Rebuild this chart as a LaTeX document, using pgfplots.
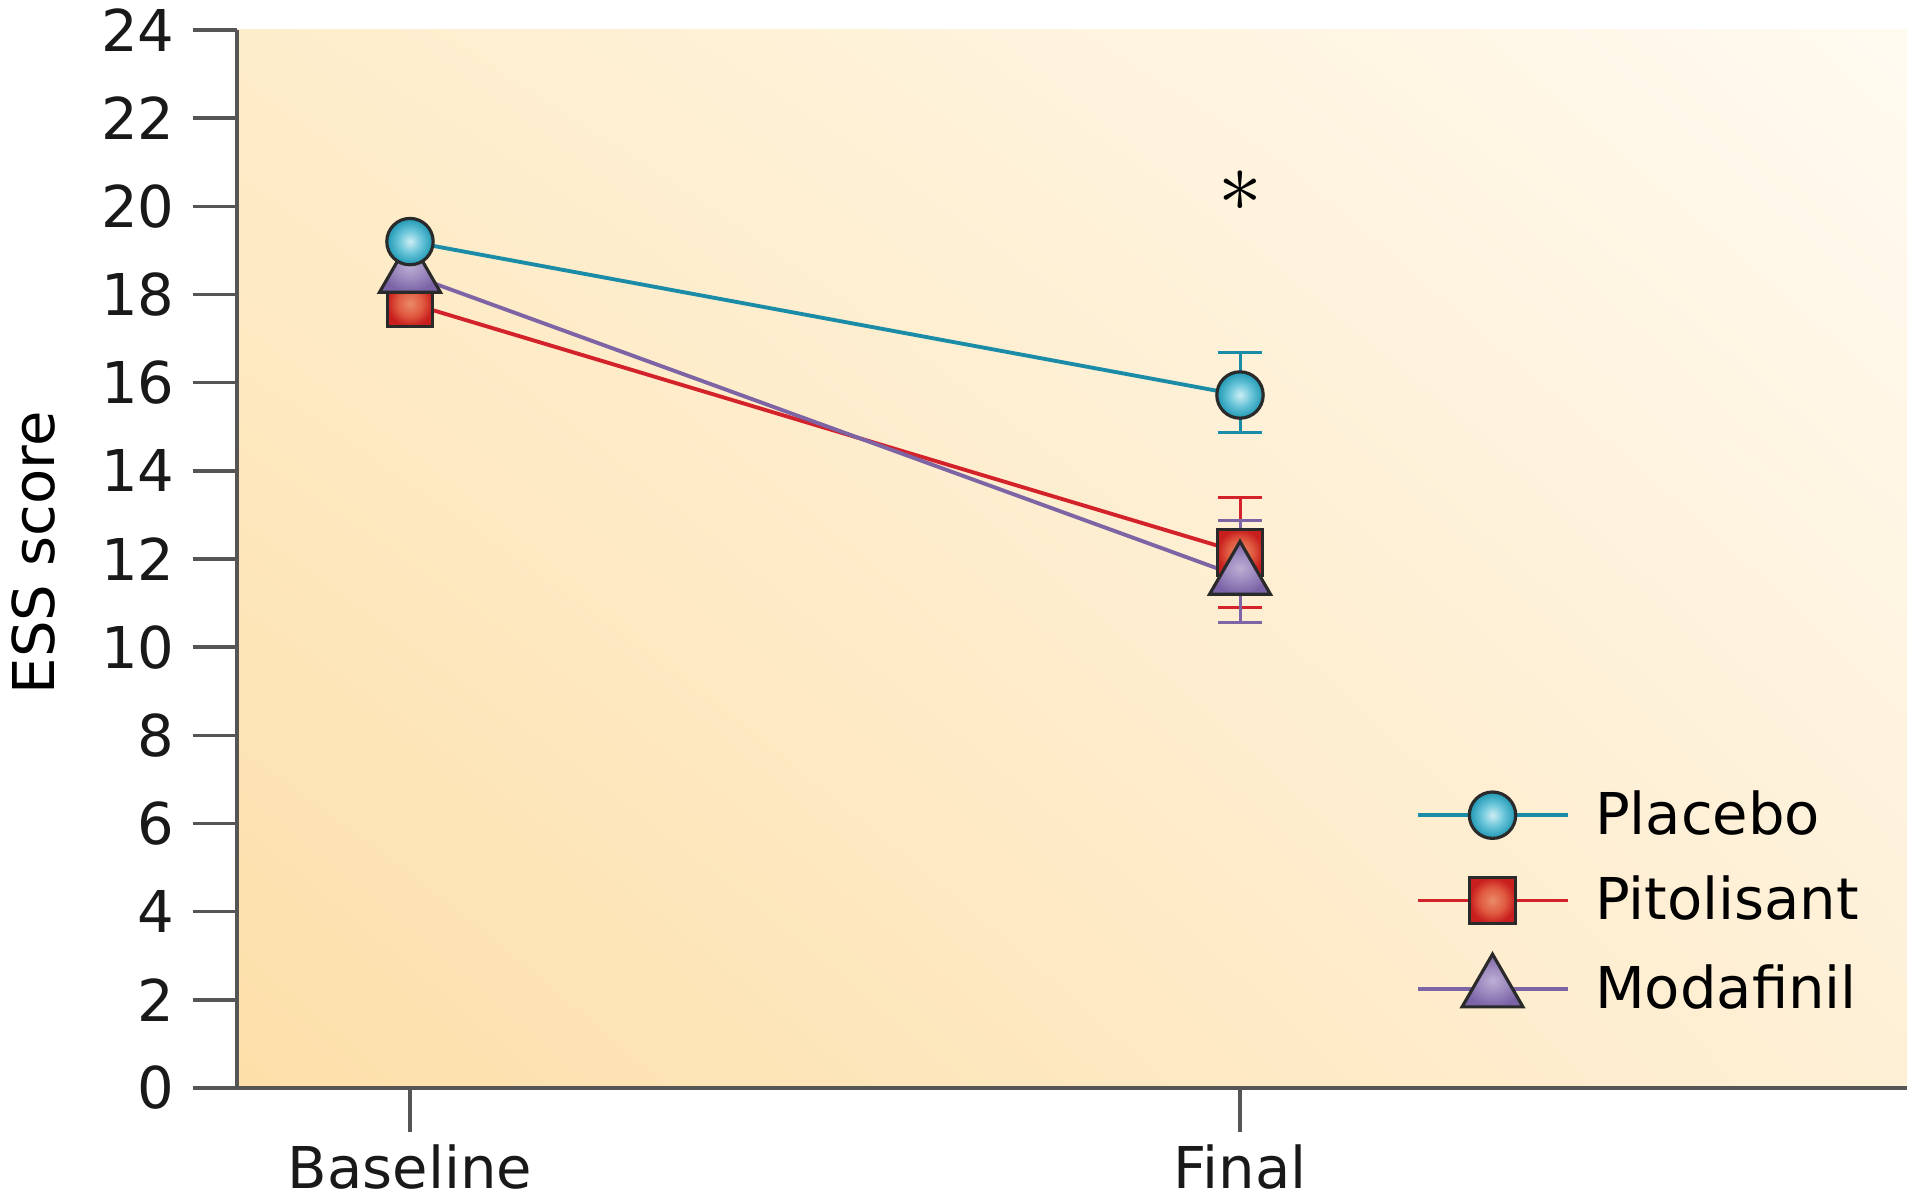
\documentclass[border=0pt]{standalone}
\usepackage{fontspec}
\setmainfont{DejaVu Sans}
\usepackage{pgfplots}
\pgfplotsset{compat=1.18}
\usetikzlibrary{shadings}

\definecolor{cteal}{HTML}{1A8CA7}
\definecolor{cred}{HTML}{D4222A}
\definecolor{cpurple}{HTML}{7D64A5}
\definecolor{edge}{HTML}{2A2A2A}
\definecolor{axisgray}{HTML}{555555}
\definecolor{tealin}{HTML}{CDEEF4}
\definecolor{tealmid}{HTML}{6CC6DA}
\definecolor{tealout}{HTML}{1E98B4}
\definecolor{redin}{HTML}{EA8A6A}
\definecolor{redmid}{HTML}{E05A40}
\definecolor{redout}{HTML}{C81E1E}
\definecolor{purin}{HTML}{BCAED4}
\definecolor{purmid}{HTML}{9E8BC0}
\definecolor{purout}{HTML}{7A63A6}
\definecolor{bgll}{HTML}{FDDFA9}
\definecolor{bgul}{HTML}{FEEDCB}
\definecolor{bglr}{HTML}{FEF0D6}
\definecolor{bgur}{HTML}{FFFAF0}

\pgfdeclareradialshading{tealball}{\pgfpoint{0bp}{0bp}}{color(0bp)=(tealin); color(12bp)=(tealmid); color(25bp)=(tealout); color(50bp)=(tealout)}
\pgfdeclareradialshading{redball}{\pgfpoint{0bp}{0bp}}{color(0bp)=(redin); color(14bp)=(redmid); color(25bp)=(redout); color(50bp)=(redout)}
\pgfdeclareradialshading{purball}{\pgfpoint{0bp}{0bp}}{color(0bp)=(purin); color(12bp)=(purmid); color(25bp)=(purout); color(50bp)=(purout)}

\pgfdeclareplotmark{shcirc}{%
  \pgfpathcircle{\pgfpointorigin}{\pgfplotmarksize}%
  \pgfshadepath{tealball}{0}%
  \pgfusepathqstroke}
\pgfdeclareplotmark{shsq}{%
  \pgfpathrectangle{\pgfpoint{-\pgfplotmarksize}{-\pgfplotmarksize}}{\pgfpoint{2\pgfplotmarksize}{2\pgfplotmarksize}}%
  \pgfshadepath{redball}{0}%
  \pgfusepathqstroke}
\pgfdeclareplotmark{shtri}{%
  \pgfpathmoveto{\pgfpointpolar{90}{\pgfplotmarksize}}%
  \pgfpathlineto{\pgfpointpolar{-30}{\pgfplotmarksize}}%
  \pgfpathlineto{\pgfpointpolar{210}{\pgfplotmarksize}}%
  \pgfpathclose
  \pgfshadepath{purball}{0}%
  \pgfusepathqstroke}

\pgfplotsset{
  placebo/.style={color=cteal, line width=1.1pt, mark=shcirc, mark size=6.6pt,
    mark options={draw=edge, line width=0.9pt}},
  pitol/.style={color=cred, line width=1.1pt, mark=shsq, mark size=6.5pt,
    mark options={draw=edge, line width=0.9pt}},
  modaf/.style={color=cpurple, line width=1.1pt, mark=shtri, mark size=10pt,
    mark options={draw=edge, line width=0.9pt}},
  ebar/.style={mark=none, forget plot,
    error bars/.cd, y dir=both, y explicit,
    error bar style={color=#1, line width=0.85pt},
    error mark options={rotate=90, mark size=6.2pt, line width=0.85pt, color=#1}},
}

\begin{document}
\begin{tikzpicture}
\begin{axis}[
  scale only axis,
  width=16.7cm, height=10.58cm,
  xmin=-0.2084, xmax=1.8036,
  ymin=0, ymax=24,
  axis lines=left,
  axis line style={-, color=axisgray, line width=1pt},
  tick style={color=axisgray, line width=1pt},
  tick align=outside,
  major tick length=4.4mm,
  xtick={0,1}, xticklabels={Baseline,Final},
  ytick={0,2,...,24},
  minor tick num=0,
  /pgf/number format/assume math mode=true,
  tick label style={font=\fontsize{16.4}{20}\selectfont, color=black!90},
  yticklabel style={xshift=-1.7pt},
  ylabel={ESS score},
  ylabel style={font=\fontsize{16.4}{20}\selectfont, at={(axis description cs:-0.1216,0.506)}, anchor=center, rotate=0},
  axis background/.style={shade, draw=none, lower left=bgll, upper left=bgul, lower right=bglr, upper right=bgur},
  legend image code/.code={\draw[mark repeat=2,mark phase=2] plot coordinates {(0cm,0cm) (0.75cm,0cm) (1.5cm,0cm)};},
  legend cell align=left,
  legend style={draw=none, fill=none, at={(0.699,0.295)}, anchor=north west,
    font=\fontsize{16.4}{20}\selectfont, row sep=6.3pt, column sep=5.3pt},
  clip=false,
]
\addlegendimage{placebo}\addlegendentry{Placebo}
\addlegendimage{pitol}\addlegendentry{Pitolisant}
\addlegendimage{modaf}\addlegendentry{Modafinil}

% error bars (beneath markers)
\addplot[ebar=cteal] coordinates {(1,15.78) +- (0,0.9)};
\addplot[ebar=cred] coordinates {(1,12.15) +- (0,1.25)};
\addplot[ebar=cpurple] coordinates {(1,11.72) +- (0,1.15)};

% series
\addplot[pitol, forget plot] coordinates {(0,17.8) (1,12.15)};
\addplot[modaf, forget plot] coordinates {(0,18.45) (1,11.6)};
\addplot[placebo, forget plot] coordinates {(0,19.2) (1,15.72)};

\node[font=\fontsize{26}{26}\selectfont] at (axis cs:1,20.35) {$\ast$};
\end{axis}
\pgfresetboundingbox
\path[use as bounding box] (-2.37cm,-1.15cm) rectangle (16.83cm,10.88cm);
\end{tikzpicture}
\end{document}
